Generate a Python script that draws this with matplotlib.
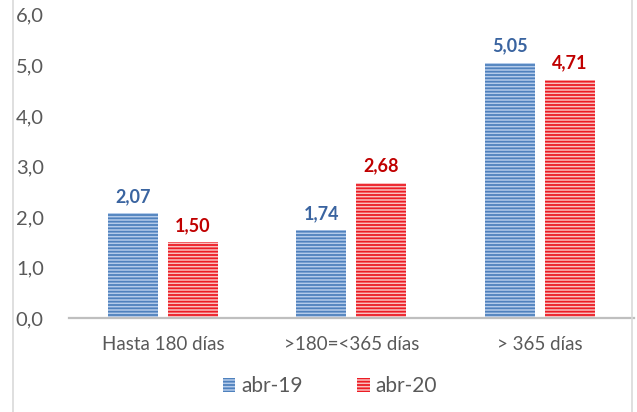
import matplotlib
matplotlib.use("Agg")
import matplotlib.pyplot as plt
from matplotlib.lines import Line2D
import numpy as np

# chart data
categories = ["Hasta 180 días", ">180=<365 días", "> 365 días"]
series_names = ["abr-19", "abr-20"]
abr19 = [2.07, 1.74, 5.05]
abr20 = [1.50, 2.68, 4.71]
yticks = [0, 1, 2, 3, 4, 5, 6]

plt.rcParams["font.family"] = ["Lato", "DejaVu Sans"]
plt.rcParams["hatch.linewidth"] = 1.3

TXT = "#595959"
fig = plt.figure(figsize=(6.37, 4.12), dpi=100)
ax = fig.add_axes([0.108, 0.228, 0.887, 0.736])

x = np.arange(len(categories))
w = 0.265
off = 0.159

b1 = ax.bar(x - off, abr19, w, color="#b4cbea", edgecolor="#4f81bd",
            hatch="-----", linewidth=0, label=series_names[0])
b2 = ax.bar(x + off, abr20, w, color="#f9c0c0", edgecolor="#ec1c24",
            hatch="-----", linewidth=0, label=series_names[1])

def fmt(v):
    return f"{v:.2f}".replace(".", ",")

for bars, vals, col in [(b1, abr19, "#3a64a0"), (b2, abr20, "#c00000")]:
    for rect, v in zip(bars, vals):
        ax.annotate(fmt(v), (rect.get_x() + rect.get_width() / 2, v),
                    xytext=(0, 6), textcoords="offset points",
                    ha="center", va="bottom", fontsize=13,
                    fontweight="bold", color=col)

ax.set_xlim(-0.5, 2.5)
ax.set_ylim(0, 6)
ax.set_yticks(yticks)
ax.set_yticklabels([f"{t:.1f}".replace(".", ",") for t in yticks])
ax.set_xticks(x)
ax.set_xticklabels(categories)
ax.tick_params(axis="y", length=0, pad=18, labelsize=14.5, labelcolor=TXT)
ax.tick_params(axis="x", length=0, pad=13, labelsize=13.5, labelcolor=TXT)

for s in ["top", "right", "left"]:
    ax.spines[s].set_visible(False)
ax.spines["bottom"].set_color("#bfbfbf")
ax.spines["bottom"].set_linewidth(1.6)

leg = fig.legend(loc="center", bbox_to_anchor=(0.518, 0.062), ncol=2,
                 frameon=False, fontsize=15, handlelength=0.6,
                 handleheight=0.7, columnspacing=2.6, handletextpad=0.3)
for t in leg.get_texts():
    t.set_color(TXT)

# outer chart border (left and right edges)
for xf in [13 / 637, 632 / 637]:
    fig.add_artist(Line2D([xf, xf], [0, 1], transform=fig.transFigure,
                          color="#d9d9d9", linewidth=1.2))

fig.savefig("out.png", dpi=100)
